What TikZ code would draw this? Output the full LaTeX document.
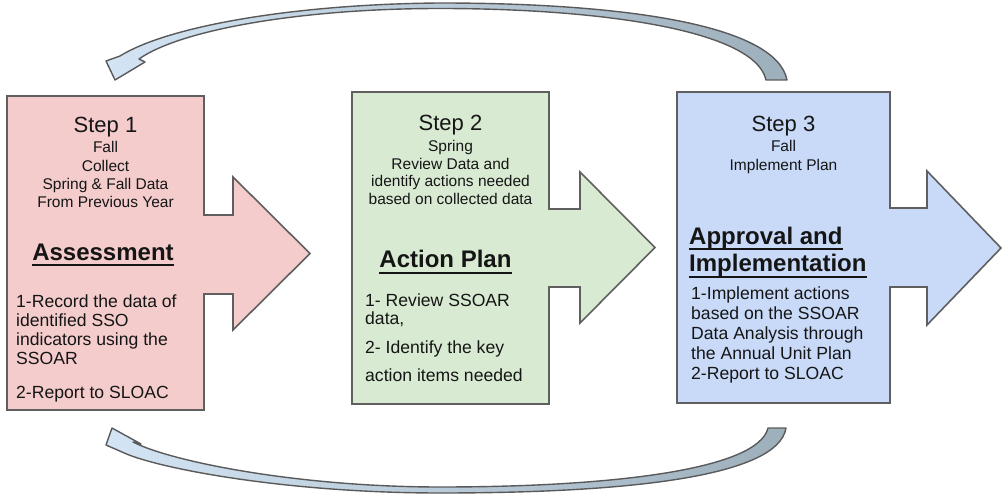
\documentclass[tikz,border=0pt]{standalone}
\usepackage{fontspec}
\setmainfont{Liberation Sans}
\newcommand\myul[1]{\setbox0\hbox{#1}\rlap{\rule[-5.5pt]{\wd0}{1.8pt}}\box0}
\definecolor{boxline}{HTML}{5F5F5F}
\definecolor{pinkfill}{HTML}{F4CCCC}
\definecolor{greenfill}{HTML}{D9EAD3}
\definecolor{bluefill}{HTML}{C9DAF8}
\definecolor{ribbonlight}{HTML}{D3E4F4}
\definecolor{ribbondark}{HTML}{9EAFBC}
\definecolor{ribbonline}{HTML}{5A5A5A}
\definecolor{txt}{HTML}{151515}
\begin{document}
\begin{tikzpicture}[x=1pt,y=-1pt,
  stepbox/.style={draw=boxline, line width=1.6pt, line join=miter},
  steptitle/.style={anchor=base, inner sep=0, text=txt, font=\fontsize{22}{26}\selectfont},
  subline/.style={anchor=base, inner sep=0, text=txt, font=\fontsize{15.5}{18}\selectfont},
  headline/.style={anchor=base, inner sep=0, text=txt, font=\fontsize{24}{28}\selectfont\bfseries},
  headleft/.style={headline, anchor=base west},
  bodyline/.style={anchor=base west, inner sep=0, text=txt, font=\fontsize{17.6}{20}\selectfont},
  cycarrow/.style={draw=ribbonline, line width=1.4pt, line join=round, left color=ribbonlight, right color=ribbondark}
]
\useasboundingbox (0,0) rectangle (1003,494);

% ---- step arrow boxes
\draw[stepbox, fill=pinkfill] (7,96) -- (204,96) -- (204,215) -- (233,215) -- (233,177) -- (310,253.5)
  -- (233,330) -- (233,294) -- (204,294) -- (204,410) -- (7,410) -- cycle;
\draw[stepbox, fill=greenfill] (352,92) -- (549,92) -- (549,209) -- (580,209) -- (580,172) -- (655,247.5)
  -- (580,323) -- (580,287) -- (549,287) -- (549,404) -- (352,404) -- cycle;
\draw[stepbox, fill=bluefill] (677,92) -- (890,92) -- (890,208) -- (927,208) -- (927,171) -- (1001,248)
  -- (927,325) -- (927,287) -- (890,287) -- (890,403) -- (677,403) -- cycle;

% ---- step 1 text
\node[steptitle] (t1) at (105.5,133) {Step 1};
\node[subline] (t1a) at (105.5,153) {Fall};
\node[subline] (t1b) at (105.5,171.5) {Collect};
\node[subline] (t1c) at (105.5,190) {Spring \& Fall Data};
\node[subline] (t1d) at (105.5,208) {From Previous Year};
\node[headline] (h1) at (103,260) {\myul{Assessment}};
\node[bodyline] (b1a) at (16,307) {1-Record the data of};
\node[bodyline] (b1b) at (16,326) {identified SSO};
\node[bodyline] (b1c) at (16,345) {indicators using the};
\node[bodyline] (b1d) at (16,364) {SSOAR};
\node[bodyline] (b1e) at (16,398) {2-Report to SLOAC};

% ---- step 2 text
\node[steptitle] (t2) at (450.5,131) {Step 2};
\node[subline] (t2a) at (450.5,152) {Spring};
\node[subline] (t2b) at (450.5,170) {Review Data and};
\node[subline] (t2c) at (450.5,187) {identify actions needed};
\node[subline] (t2d) at (450.5,204.5) {based on collected data};
\node[headline] (h2) at (445.5,268) {\myul{Action Plan}};
\node[bodyline] (b2a) at (365,306) {1- Review SSOAR};
\node[bodyline] (b2b) at (365,324) {data,};
\node[bodyline] (b2c) at (365,353) {2- Identify the key};
\node[bodyline] (b2d) at (365,381) {action items needed};

% ---- step 3 text
\node[steptitle] (t3) at (783.5,131.5) {Step 3};
\node[subline] (t3a) at (783.5,152) {Fall};
\node[subline] (t3b) at (783.5,170.5) {Implement Plan};
\node[headleft] (h3a) at (689,244) {\myul{Approval and}};
\node[headleft] (h3b) at (689,272) {\myul{Implementation}};
\node[bodyline] (b3a) at (691,299) {1-Implement actions};
\node[bodyline] (b3b) at (691,319) {based on the SSOAR};
\node[bodyline] (b3c) at (691,339) {Data Analysis through};
\node[bodyline] (b3d) at (691,359) {the Annual Unit Plan};
\node[bodyline] (b3e) at (691,379) {2-Report to SLOAC};

% ---- curved return arrows (ribbon shapes)
\coordinate (topTail) at (776,80);
\coordinate (topTip) at (115,80);
\draw[cycarrow] (766,80) -- (787,80)
  .. controls (776,24) and (620,3) .. (440,3)
  .. controls (300,4) and (170,25) .. (120,56)
  -- (106,61) -- (topTip) -- (145,62) -- (139,59)
  .. controls (180,30) and (300,8.5) .. (440,8.5)
  .. controls (600,8.5) and (755,30) .. (766,80) -- cycle;

\coordinate (botTail) at (777,428);
\coordinate (botTip) at (112,428);
\draw[cycarrow] (768,428) -- (786,428)
  .. controls (778,478) and (620,493) .. (440,493)
  .. controls (285,493) and (155,468) .. (122,452)
  -- (106,445) -- (botTip) -- (141,444) -- (133,442)
  .. controls (172,462) and (300,487) .. (440,487)
  .. controls (610,487) and (758,470) .. (768,428) -- cycle;
\end{tikzpicture}
\end{document}
